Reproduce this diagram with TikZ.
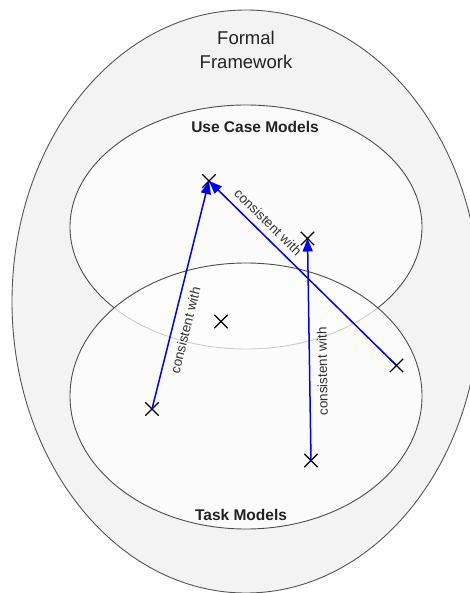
\documentclass[tikz,border=0pt]{standalone}
\usepackage{fontspec}
\setmainfont{Liberation Sans}
\usetikzlibrary{arrows.meta,shapes.misc}
\definecolor{outerfill}{HTML}{F3F3F3}
\definecolor{innerfill}{HTML}{FBFBFB}
\definecolor{rimgray}{HTML}{555555}
\definecolor{txtgray}{HTML}{222222}
\definecolor{lblgray}{HTML}{333333}
\tikzset{
  xmark/.style={cross out, draw=black, line width=1.3pt, minimum size=12pt, inner sep=0pt},
  consist/.style={draw=blue, line width=1.5pt, -{Triangle[length=13pt,width=10pt]}},
  lbl/.style={text=lblgray, font=\fontsize{13.5}{16}\selectfont, inner sep=0pt, sloped},
  title/.style={text=txtgray, inner sep=0pt},
}
\begin{document}
\begin{tikzpicture}[x=1pt,y=-1pt]
\useasboundingbox (0,0) rectangle (470,593);
\clip (0,0) rectangle (470,593);
\fill[white] (0,0) rectangle (470,593);
% containers
\draw[draw=rimgray, line width=0.9pt, fill=outerfill] (246,301.5) ellipse [x radius=234, y radius=291.5];
\draw[draw=rimgray!90!black, line width=0.9pt, fill=innerfill] (246,227) ellipse [x radius=176, y radius=122];
\fill[white, fill opacity=0.72] (246,396) ellipse [x radius=176, y radius=133];
\draw[draw=rimgray!90!black, line width=0.9pt] (246,396) ellipse [x radius=176, y radius=133];
% titles
\node[title, align=center, font=\fontsize{18.5}{24}\selectfont] (ff) at (246,49.5) {Formal\\Framework};
\node[title, anchor=base, font=\fontsize{15.5}{18}\selectfont\bfseries] (uc) at (255,132.7) {Use Case Models};
\node[title, anchor=base, font=\fontsize{15.5}{18}\selectfont\bfseries] (tm) at (241,520) {Task Models};
% elements
\node[xmark] (p1) at (209,181) {};
\node[xmark] (p2) at (307.5,238.5) {};
\node[xmark] (p3) at (221,321.5) {};
\node[xmark] (p4) at (396.5,365.5) {};
\node[xmark] (p5) at (152,409) {};
\node[xmark] (p6) at (311,460.5) {};
% relations
\draw[consist] (p5.center) -- (p1.center) node[lbl, pos=0.36, below=7.5pt] {consistent with};
\draw[consist] (p4.center) -- (p1.center) node[lbl, pos=0.73, above=6.5pt] {consistent with};
\draw[consist] (p6.center) -- (p2.center) node[lbl, allow upside down, pos=0.40, below=7pt] {consistent with};
\end{tikzpicture}
\end{document}
